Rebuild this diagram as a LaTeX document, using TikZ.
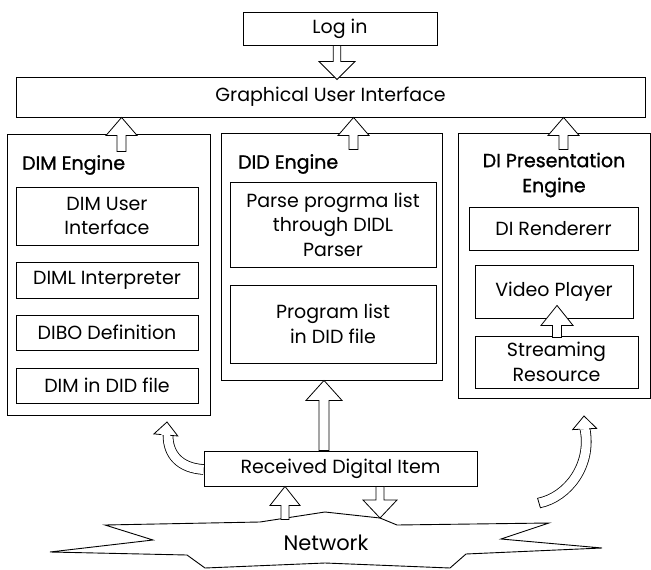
\documentclass[tikz,border=0pt]{standalone}
\usepackage{fontspec}
\setmainfont{Poppins}
\newfontfamily\hdrfont[FakeBold=1.2]{Poppins}
\usetikzlibrary{calc}
\newcommand\txt{\fontsize{19}{24.5}\selectfont}
\newcommand\hdr{\fontsize{19}{25}\selectfont\hdrfont}
\tikzset{
  box/.style={draw, line width=0.9pt, inner sep=0pt, align=center, font=\txt},
  lbl/.style={inner sep=0pt, align=center, font=\hdr},
  harrow/.style={draw, fill=white, line width=0.8pt, line join=miter},
  cshaft/.style={draw, double=white, double distance=9pt, line width=0.8pt},
}
% vertical hollow arrow: #1 tail, #2 tip, #3 shaft half width, #4 head half width, #5 head length
\newcommand\vharrow[5]{%
  \path[harrow] let \p1=(#1), \p2=(#2), \n1={ifthenelse(\y2>\y1,1,-1)} in
    ({\x1-#3},{\y1}) -- ({\x1-#3},{\y2-(\n1)*#5}) -- ({\x1-#4},{\y2-(\n1)*#5}) -- ({\x1},{\y2})
    -- ({\x1+#4},{\y2-(\n1)*#5}) -- ({\x1+#3},{\y2-(\n1)*#5}) -- ({\x1+#3},{\y1}) -- cycle;}
% hollow head at #1 (tip), rotated by #2
\newcommand\hhead[2]{%
  \begin{scope}[shift={(#1)}, rotate=#2]
    \fill[white] (0,0) -- (12,13) -- (-12,13) -- cycle;
    \draw[line width=0.8pt, line join=miter] (4.5,13) -- (12,13) -- (0,0) -- (-12,13) -- (-4.5,13);
  \end{scope}}
\begin{document}
\begin{tikzpicture}[x=1pt, y=-1pt]
\useasboundingbox (0,0) rectangle (651,570);

% top boxes
\node[box, minimum width=194pt, minimum height=33pt] (login) at (340,28.5) {Log in};
\node[box, minimum width=629pt, minimum height=40pt] (gui) at (330.5,97) {Graphical User Interface};

% DIM engine
\node[box, minimum width=203pt, minimum height=281pt] (dim) at (108.5,274.5) {};
\node[lbl, anchor=west] (dimlbl) at (22,165) {DIM Engine};
\node[box, minimum width=182pt, minimum height=58pt] (dimui) at (107,216) {DIM User\\Interface};
\node[box, minimum width=182pt, minimum height=36pt] (diml) at (107,280) {DIML Interpreter};
\node[box, minimum width=182pt, minimum height=35pt] (dibo) at (107,332.5) {DIBO Definition};
\node[box, minimum width=182pt, minimum height=35pt] (dimdid) at (107,385.5) {DIM in DID file};

% DID engine
\node[box, minimum width=221pt, minimum height=247pt] (did) at (331.5,256.5) {};
\node[lbl, anchor=west] (didlbl) at (238,164) {DID Engine};
\node[box, minimum width=206pt, minimum height=85pt] (parse) at (333,224.5) {Parse progrma list\\through DIDL\\Parser};
\node[box, minimum width=206pt, minimum height=78pt] (prog) at (333,324) {Program list\\in DID file};

% DI presentation engine
\node[box, minimum width=192pt, minimum height=265pt] (dip) at (554,265.5) {};
\node[lbl] (diplbl) at (554,175) {DI Presentation\\Engine};
\node[box, minimum width=169pt, minimum height=43pt] (rend) at (553.5,228.5) {DI Rendererr};
\node[box, minimum width=158pt, minimum height=53pt] (video) at (554,291.5) {Video Player};
\node[box, minimum width=163pt, minimum height=52pt] (stream) at (556.5,362) {Streaming\\Resource};

% received digital item
\node[box, minimum width=273pt, minimum height=35pt] (recv) at (340.5,468.5) {Received Digital Item};

% network
\draw[line width=0.9pt, line join=miter, fill=white]
  (105,525) -- (260,522) -- (325,512) -- (380,518) -- (397,525) -- (549,523)
  -- (501,539) -- (602,548) -- (466,554) -- (450,568) -- (325,563) -- (205,568)
  -- (187,555) -- (50,552) -- (153,540) -- cycle;
\node[font=\fontsize{21}{24}\selectfont, inner sep=0pt] (net) at (326,543) {Network};

% straight hollow arrows
\coordinate (a1) at ($(login.south)+(-3,0)$);
\coordinate (a1t) at ($(a1 |- gui.north)+(0,3)$);
\vharrow{a1}{a1t}{3.8pt}{18pt}{18pt}

\coordinate (a2) at ($(dim.north west)+(115,18)$);
\coordinate (a2t) at (a2 |- gui.south);
\vharrow{a2}{a2t}{4.5pt}{15.5pt}{18pt}

\coordinate (a3) at ($(did.north west)+(133,17)$);
\coordinate (a3t) at (a3 |- gui.south);
\vharrow{a3}{a3t}{4.5pt}{15.5pt}{18pt}

\coordinate (a4) at ($(dip.north west)+(106,17)$);
\coordinate (a4t) at (a4 |- gui.south);
\vharrow{a4}{a4t}{4.5pt}{15.5pt}{18pt}

\coordinate (a5) at ($(stream.north)+(0.5,2)$);
\coordinate (a5t) at ($(a5 |- video.south)+(0,-13)$);
\vharrow{a5}{a5t}{4.5pt}{16pt}{20pt}

\coordinate (a6) at ($(recv.north)+(-16.5,0)$);
\coordinate (a6t) at (a6 |- did.south);
\vharrow{a6}{a6t}{5pt}{18pt}{20pt}

\coordinate (n1) at (285,519.5);
\coordinate (n1t) at (n1 |- recv.south);
\vharrow{n1}{n1t}{4pt}{15pt}{19pt}

\coordinate (n2) at ($(recv.south)+(39.5,0)$);
\coordinate (n2t) at (380,518);
\vharrow{n2}{n2t}{4pt}{17pt}{18pt}

% curved hollow arrows
\coordinate (c1) at ($(recv.west)+(0,1)$);
\coordinate (c1h) at (168,435);
\draw[cshaft] (c1) .. controls (180,468) and (168,455) .. (c1h);
\hhead{167,422}{-5}

\coordinate (c2) at (539,503);
\coordinate (c2h) at (585,429);
\draw[cshaft] (c2) .. controls (568,497) and (592,465) .. (c2h);
\draw[line width=0.8pt] (537.5,498) -- (540.5,508);
\hhead{584,416}{3}
\end{tikzpicture}
\end{document}
